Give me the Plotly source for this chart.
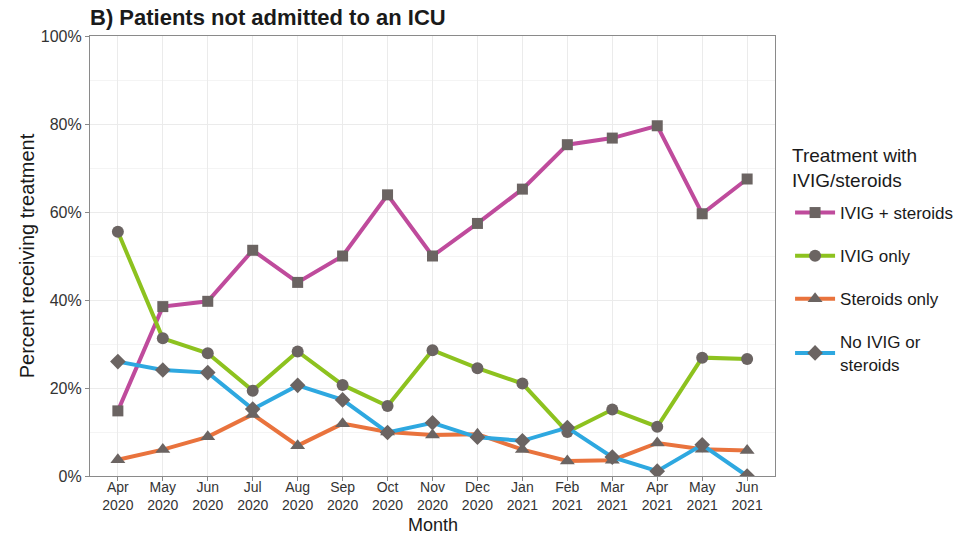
import plotly.graph_objects as go

months = ["Apr<br>2020", "May<br>2020", "Jun<br>2020", "Jul<br>2020", "Aug<br>2020",
          "Sep<br>2020", "Oct<br>2020", "Nov<br>2020", "Dec<br>2020", "Jan<br>2021",
          "Feb<br>2021", "Mar<br>2021", "Apr<br>2021", "May<br>2021", "Jun<br>2021"]

ivig_steroids = [14.8, 38.5, 39.7, 51.3, 44.0, 50.0, 63.9, 50.0, 57.4, 65.2, 75.3, 76.8, 79.6, 59.6, 67.5]
ivig_only = [55.5, 31.3, 27.9, 19.4, 28.3, 20.7, 15.9, 28.6, 24.5, 21.0, 10.0, 15.1, 11.2, 26.9, 26.6]
steroids_only = [3.7, 6.0, 8.9, 14.0, 6.9, 11.9, 10.0, 9.3, 9.5, 6.0, 3.4, 3.6, 7.5, 6.1, 5.8]
neither = [26.0, 24.1, 23.5, 15.2, 20.6, 17.3, 9.9, 12.1, 8.8, 8.0, 11.0, 4.3, 1.1, 7.1, 0.0]

y_ticks = [0, 20, 40, 60, 80, 100]
y_tick_labels = ["0%", "20%", "40%", "60%", "80%", "100%"]

series = [
    ("IVIG + steroids", ivig_steroids, "#BF4B9C", "square", 11),
    ("IVIG only", ivig_only, "#8DC21F", "circle", 12),
    ("Steroids only", steroids_only, "#E9733D", "triangle-up", 13),
    ("No IVIG or<br>steroids", neither, "#2EA8E0", "diamond", 12),
]

fig = go.Figure()
for i, (name, vals, color, symbol, size) in enumerate(series):
    fig.add_trace(go.Scatter(
        x=list(range(len(months))), y=vals, name=name, mode="lines+markers",
        legendgroup=f"g{i}",
        line=dict(color=color, width=4),
        marker=dict(symbol=symbol, size=size, color="#6B6462",
                    line=dict(width=0)),
    ))

font_family = "Liberation Sans, Arial, sans-serif"
plot_top, plot_bottom = 36, 476
plot_h = plot_bottom - plot_top


def paper_y(px):
    """Convert a pixel row of the page into paper coordinates."""
    return (plot_bottom - px) / plot_h


fig.update_layout(
    width=976, height=536,
    margin=dict(l=90, r=201, t=plot_top, b=536 - plot_bottom),
    paper_bgcolor="white", plot_bgcolor="white",
    font=dict(family=font_family, color="#1a1a1a", size=16),
    title=dict(text="<b>B) Patients not admitted to an ICU</b>",
               font=dict(size=22, color="#1a1a1a"),
               xref="paper", x=0.0, xanchor="left",
               yref="container", y=0.968, yanchor="middle"),
    showlegend=True,
    legend=dict(
        font=dict(size=17),
        x=1.022, xanchor="left", y=paper_y(195), yanchor="top",
        tracegroupgap=18, itemwidth=40,
        bgcolor="rgba(0,0,0,0)",
    ),
    annotations=[
        # legend heading
        dict(text="Treatment with<br>IVIG/steroids", showarrow=False,
             xref="paper", yref="paper", x=1.022, xanchor="left",
             y=paper_y(168), yanchor="middle", align="left",
             font=dict(size=19, color="#1a1a1a")),
        # x-axis title
        dict(text="Month", showarrow=False,
             xref="paper", yref="paper", x=0.5, xanchor="center",
             y=paper_y(525), yanchor="middle",
             font=dict(size=18, color="#1a1a1a")),
    ],
)

fig.update_xaxes(
    range=[-0.62, len(months) - 1 + 0.62],
    tickvals=list(range(len(months))), ticktext=months,
    showgrid=True, gridcolor="#EBEBEB", gridwidth=1,
    showline=True, mirror=True, linecolor="#8A8A8A", linewidth=1.2,
    ticks="outside", ticklen=4, tickcolor="#8A8A8A",
    ticklabelstandoff=-6,
    tickfont=dict(size=14, color="#333333"),
    zeroline=False, automargin=False,
)
fig.update_yaxes(
    range=[0, 100],
    tickvals=y_ticks, ticktext=y_tick_labels,
    showgrid=True, gridcolor="#EBEBEB", gridwidth=1,
    minor=dict(tickvals=[10, 30, 50, 70, 90], showgrid=True,
               gridcolor="#F4F4F4", gridwidth=1, ticks=""),
    showline=True, mirror=True, linecolor="#8A8A8A", linewidth=1.2,
    ticks="outside", ticklen=4, tickcolor="#8A8A8A",
    tickfont=dict(size=16, color="#333333"),
    title=dict(text="Percent receiving treatment", font=dict(size=20), standoff=0),
    zeroline=False, automargin=False,
)

fig.write_html("out.html")
